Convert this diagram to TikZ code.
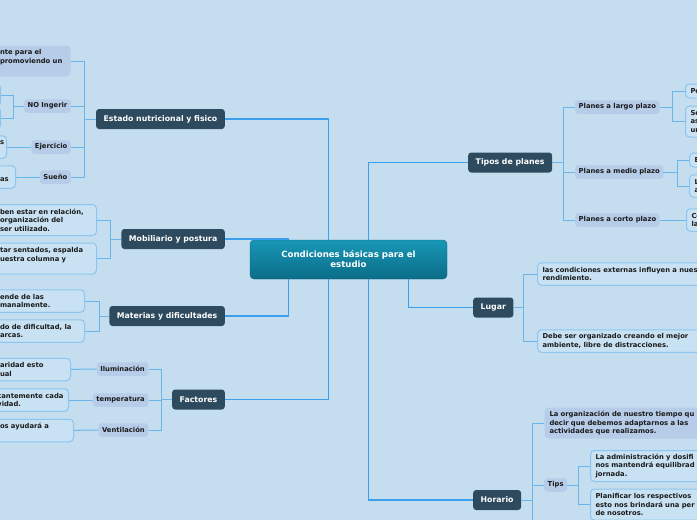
\documentclass[tikz,border=0pt]{standalone}
\usepackage{fontspec}
\setmainfont{DejaVu Sans}
\usepackage{xcolor}
\definecolor{bgblue}{HTML}{C4DEF0}
\definecolor{slate}{HTML}{2D4A5E}
\definecolor{coretop}{HTML}{1898B6}
\definecolor{corebot}{HTML}{0B6C88}
\definecolor{coreline}{HTML}{0E6782}
\definecolor{tagfill}{HTML}{B6CCE8}
\definecolor{leaffill}{HTML}{C8E2F4}
\definecolor{leafline}{HTML}{8CC6F0}
\definecolor{brline}{HTML}{6AB5EA}
\definecolor{trline}{HTML}{3A9FEC}
\definecolor{ink}{HTML}{1B1B1B}
\usepackage{tikz}
\tikzset{
  core/.style={top color=coretop, bottom color=corebot, draw=coreline, rounded corners=4pt, text=white, align=center, minimum width=197pt, minimum height=39pt, inner sep=0pt, font=\fontsize{8.6}{10}\selectfont\bfseries},
  topic/.style={fill=slate, rounded corners=3pt, text=white, minimum height=20pt, inner xsep=7.5pt, inner ysep=0pt, font=\fontsize{7.8}{9.5}\selectfont\bfseries},
  lab/.style={fill=tagfill, rounded corners=3pt, text=ink, minimum height=13.5pt, inner xsep=3.5pt, inner ysep=0pt, font=\fontsize{6.8}{8.6}\selectfont\bfseries},
  leaf/.style={draw=leafline, fill=leaffill, line width=1pt, rounded corners=4pt, text=ink, align=left, inner xsep=5pt, inner ysep=0pt, font=\fontsize{6.8}{8.6}\selectfont\bfseries},
  tagbox/.style={leaf, draw=none, fill=tagfill},
  l1/.style={minimum height=14pt},
  l2/.style={minimum height=22.5pt},
  l3/.style={minimum height=31pt},
  br/.style={draw=brline, line width=1pt},
  trunk/.style={draw=trline, line width=1.3pt}
}
\newcommand{\gap}{\mbox{}}

\begin{document}
\begin{tikzpicture}[x=1pt,y=-1pt]
\useasboundingbox (0,0) rectangle (697,520);
\clip (0,0) rectangle (697,520);
\fill[bgblue] (0,0) rectangle (697,520);

\node[core] (core) at (348.5,259.5) {Condiciones básicas para el\\estudio};

\node[topic,anchor=east] (estado) at (225,119) {Estado nutricional y fisico};
\node[topic,anchor=east] (mob) at (225,239) {Mobiliario y postura};
\node[topic,anchor=east] (mat) at (225,316) {Materias y dificultades};
\node[topic,anchor=east] (fac) at (225,399.5) {Factores};
\node[topic,anchor=west] (tipos) at (468,162.5) {Tipos de planes};
\node[topic,anchor=west] (lugar) at (473,307.5) {Lugar};
\node[topic,anchor=west] (hor) at (473,500) {Horario};

\node[tagbox,l3,anchor=east,text width=65.5pt] (e1) at (71,61) {nte para el\\promoviendo un\\\gap};
\node[lab,anchor=east] (noing) at (71,106) {NO Ingerir};
\node[lab,anchor=east] (ejer) at (71,147) {Ejercicio};
\node[lab,anchor=east] (suen) at (71,177) {Sueño};
\node[leaf,l2,anchor=east,text width=20pt] (n1) at (1,95) {};
\node[leaf,l2,anchor=east,text width=20pt] (n2) at (1,118) {};
\node[leaf,l2,anchor=east,text width=1.5pt] (ej1) at (7,147) {s\\\gap};
\node[leaf,l2,anchor=east,text width=10.5pt] (su1) at (16,177) {\gap\\as};

\node[leaf,l3,anchor=east,text width=91.5pt] (mob1) at (97,220) {ben estar en relación,\\organización del\\ser utilizado.};
\node[leaf,l3,anchor=east,text width=91.5pt] (mob2) at (97,258.5) {tar sentados, espalda\\uestra columna y\\\gap};

\node[leaf,l2,anchor=east,text width=79.5pt] (mat1) at (85,301) {ende de las\\manalmente.};
\node[leaf,l2,anchor=east,text width=79.5pt] (mat2) at (85,331) {do de dificultad, la\\arcas.};

\node[lab,anchor=east] (ilum) at (148.5,369) {Iluminación};
\node[lab,anchor=east] (temp) at (148.5,400) {temperatura};
\node[lab,anchor=east] (vent) at (148.5,430) {Ventilación};
\node[leaf,l2,anchor=east,text width=65.5pt] (il1) at (71,369.5) {aridad esto\\ual};
\node[leaf,l2,anchor=east] (te1) at (69,400) {cantemente cada\\vidad.};
\node[leaf,l2,anchor=east,text width=68.5pt] (ve1) at (74,430.5) {os ayudará a\\\gap};

\node[lab,anchor=west] (largo) at (575,107) {Planes a largo plazo};
\node[lab,anchor=west] (medio) at (575,172) {Planes a medio plazo};
\node[lab,anchor=west] (corto) at (575,220) {Planes a corto plazo};
\node[leaf,l1,anchor=west,text width=150pt] (po) at (685,91) {Po};
\node[leaf,l3,anchor=west,text width=150pt] (se) at (685,121.5) {Se\\as\\un};
\node[leaf,l1,anchor=west,text width=150pt] (ee) at (689,160) {E};
\node[leaf,l2,anchor=west,text width=150pt] (la) at (689,186) {L\\a};
\node[leaf,l2,anchor=west,text width=150pt] (co) at (686,220) {Co\\la};

\node[leaf,l2,anchor=west,text width=170pt] (lug1) at (537,274) {las condiciones externas influyen a nues\\rendimiento.};
\node[leaf,l2,anchor=west,text width=170pt] (lug2) at (537,341) {Debe ser organizado creando el mejor\\ambiente, libre de distracciones.};

\node[tagbox,l3,anchor=west,text width=170pt] (hor1) at (544,423) {La organización de nuestro tiempo qu\\decir que debemos adaptarnos a las\\actividades que realizamos.};
\node[lab,anchor=west] (tips) at (544,485) {Tips};
\node[leaf,l3,anchor=west,text width=150pt] (tip1) at (590,466) {La administración y dosifi\\nos mantendrá equilibrad\\jornada.};
\node[leaf,l3,anchor=west,text width=150pt] (tip2) at (590,504.5) {Planificar los respectivos\\esto nos brindará una per\\de nosotros.};

\coordinate (jE) at (84,119); \coordinate (jN) at (13,106);
\coordinate (jM) at (110,239); \coordinate (jD) at (99,316);
\coordinate (jF) at (161,399.5); \coordinate (jT) at (563,162.5);
\coordinate (jL) at (672,107); \coordinate (jMd) at (677,172);
\coordinate (jU) at (523,307.5); \coordinate (jH) at (532,500);
\coordinate (jP) at (578,485); \coordinate (hend) at (532,530);

\draw[trunk] ([xshift=-20pt]core.north) |- (estado);
\draw[trunk] ([xshift=-60pt]core.north) |- (mob);
\draw[trunk] ([xshift=20pt]core.north) |- (tipos);
\draw[trunk] ([xshift=-60pt]core.south) |- (mat);
\draw[trunk] ([xshift=-20pt]core.south) |- (fac);
\draw[trunk] ([xshift=20pt]core.south) |- (hor);
\draw[trunk] ([xshift=60pt]core.south) |- (lugar);

\draw[br] (estado) -- (jE); \foreach \c in {e1,noing,ejer,suen} \draw[br] (jE) |- (\c);
\draw[br] (noing) -- (jN); \foreach \c in {n1,n2} \draw[br] (jN) |- (\c);
\draw[br] (ejer) -- (ej1); \draw[br] (suen) -- (su1);
\draw[br] (mob) -- (jM); \foreach \c in {mob1,mob2} \draw[br] (jM) |- (\c);
\draw[br] (mat) -- (jD); \foreach \c in {mat1,mat2} \draw[br] (jD) |- (\c);
\draw[br] (fac) -- (jF); \foreach \c in {ilum,temp,vent} \draw[br] (jF) |- (\c);
\draw[br] (ilum) -- (il1); \draw[br] (temp) -- (te1); \draw[br] (vent) -- (ve1);
\draw[br] (tipos) -- (jT); \foreach \c in {largo,medio,corto} \draw[br] (jT) |- (\c);
\draw[br] (largo) -- (jL); \foreach \c in {po,se} \draw[br] (jL) |- (\c);
\draw[br] (medio) -- (jMd); \foreach \c in {ee,la} \draw[br] (jMd) |- (\c);
\draw[br] (corto) -- (co);
\draw[br] (lugar) -- (jU); \foreach \c in {lug1,lug2} \draw[br] (jU) |- (\c);
\draw[br] (hor) -- (jH); \foreach \c in {hor1,tips} \draw[br] (jH) |- (\c); \draw[br] (jH) -- (hend);
\draw[br] (tips) -- (jP); \foreach \c in {tip1,tip2} \draw[br] (jP) |- (\c);
\end{tikzpicture}
\end{document}
